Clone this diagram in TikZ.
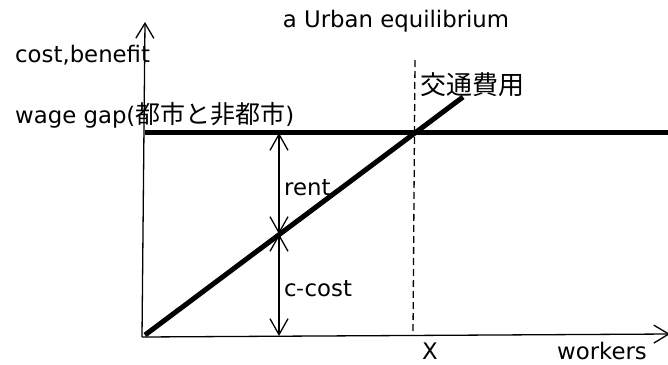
\documentclass[tikz,border=0pt]{standalone}
\usepackage{fontspec}
\setmainfont{DejaVu Sans}
\newfontfamily\jp{Noto Sans CJK JP}
\usetikzlibrary{arrows.meta}
\begin{document}
\begin{tikzpicture}[x=1pt,y=-1pt,
  thin axis/.style={line width=1.3pt,-{Straight Barb[length=15pt,width=18pt,line width=1.3pt]}},
  dbl/.style={line width=1.3pt,{Straight Barb[length=16pt,width=18pt,line width=1.3pt]}-{Straight Barb[length=16pt,width=18pt,line width=1.3pt]}},
  thick line/.style={line width=5pt},
  dashline/.style={line width=1.3pt,dash pattern=on 7pt off 4pt},
  lbl/.style={font=\fontsize{22.8}{26}\selectfont,inner sep=0pt},
  jlbl/.style={font=\fontsize{26}{28}\selectfont\jp,inner sep=0pt}]
\useasboundingbox (0,0) rectangle (668,364);
% coordinates
\coordinate (O) at (142,337);
\coordinate (Ytop) at (145,22);
\coordinate (Xend) at (670,334);
\coordinate (W0) at (145,132);
\coordinate (W1) at (672,132);
\coordinate (C0) at (145,335);
\coordinate (C1) at (463,97);
\coordinate (R0) at (279,133);
\coordinate (M) at (279,234);
\coordinate (R2) at (279,336);
\coordinate (D0) at (415,60);
\coordinate (D1) at (413,335);
% axes
\draw[thin axis] (O) -- (Ytop);
\draw[thin axis] (O) -- (Xend);
% dashed X line
\draw[dashline] (D0) -- (D1);
% thick lines
\draw[thick line] (W0) -- (W1);
\draw[thick line] (C0) -- (C1);
% double arrows
\draw[dbl] (R0) -- (M);
\draw[dbl] (M) -- (R2);
% labels
\node[lbl,anchor=base] (title) at (396,27) {a Urban equilibrium};
\node[lbl,anchor=base west] (cb) at (15,62) {cost,benefit};
\node[lbl,anchor=base west] (wg) at (15,123) {wage gap(\mbox{\jp\fontsize{25}{28}\selectfont 都市と非都市})};
\node[jlbl,anchor=base west] (kt) at (420,94) {交通費用};
\node[lbl,anchor=base west] (rent) at (284,195) {rent};
\node[lbl,anchor=base west] (cc) at (284,296) {c{\jp -}cost};
\node[lbl,anchor=base] (xl) at (430,359) {X};
\node[lbl,anchor=base] (wk) at (602,359) {workers};
\end{tikzpicture}
\end{document}
